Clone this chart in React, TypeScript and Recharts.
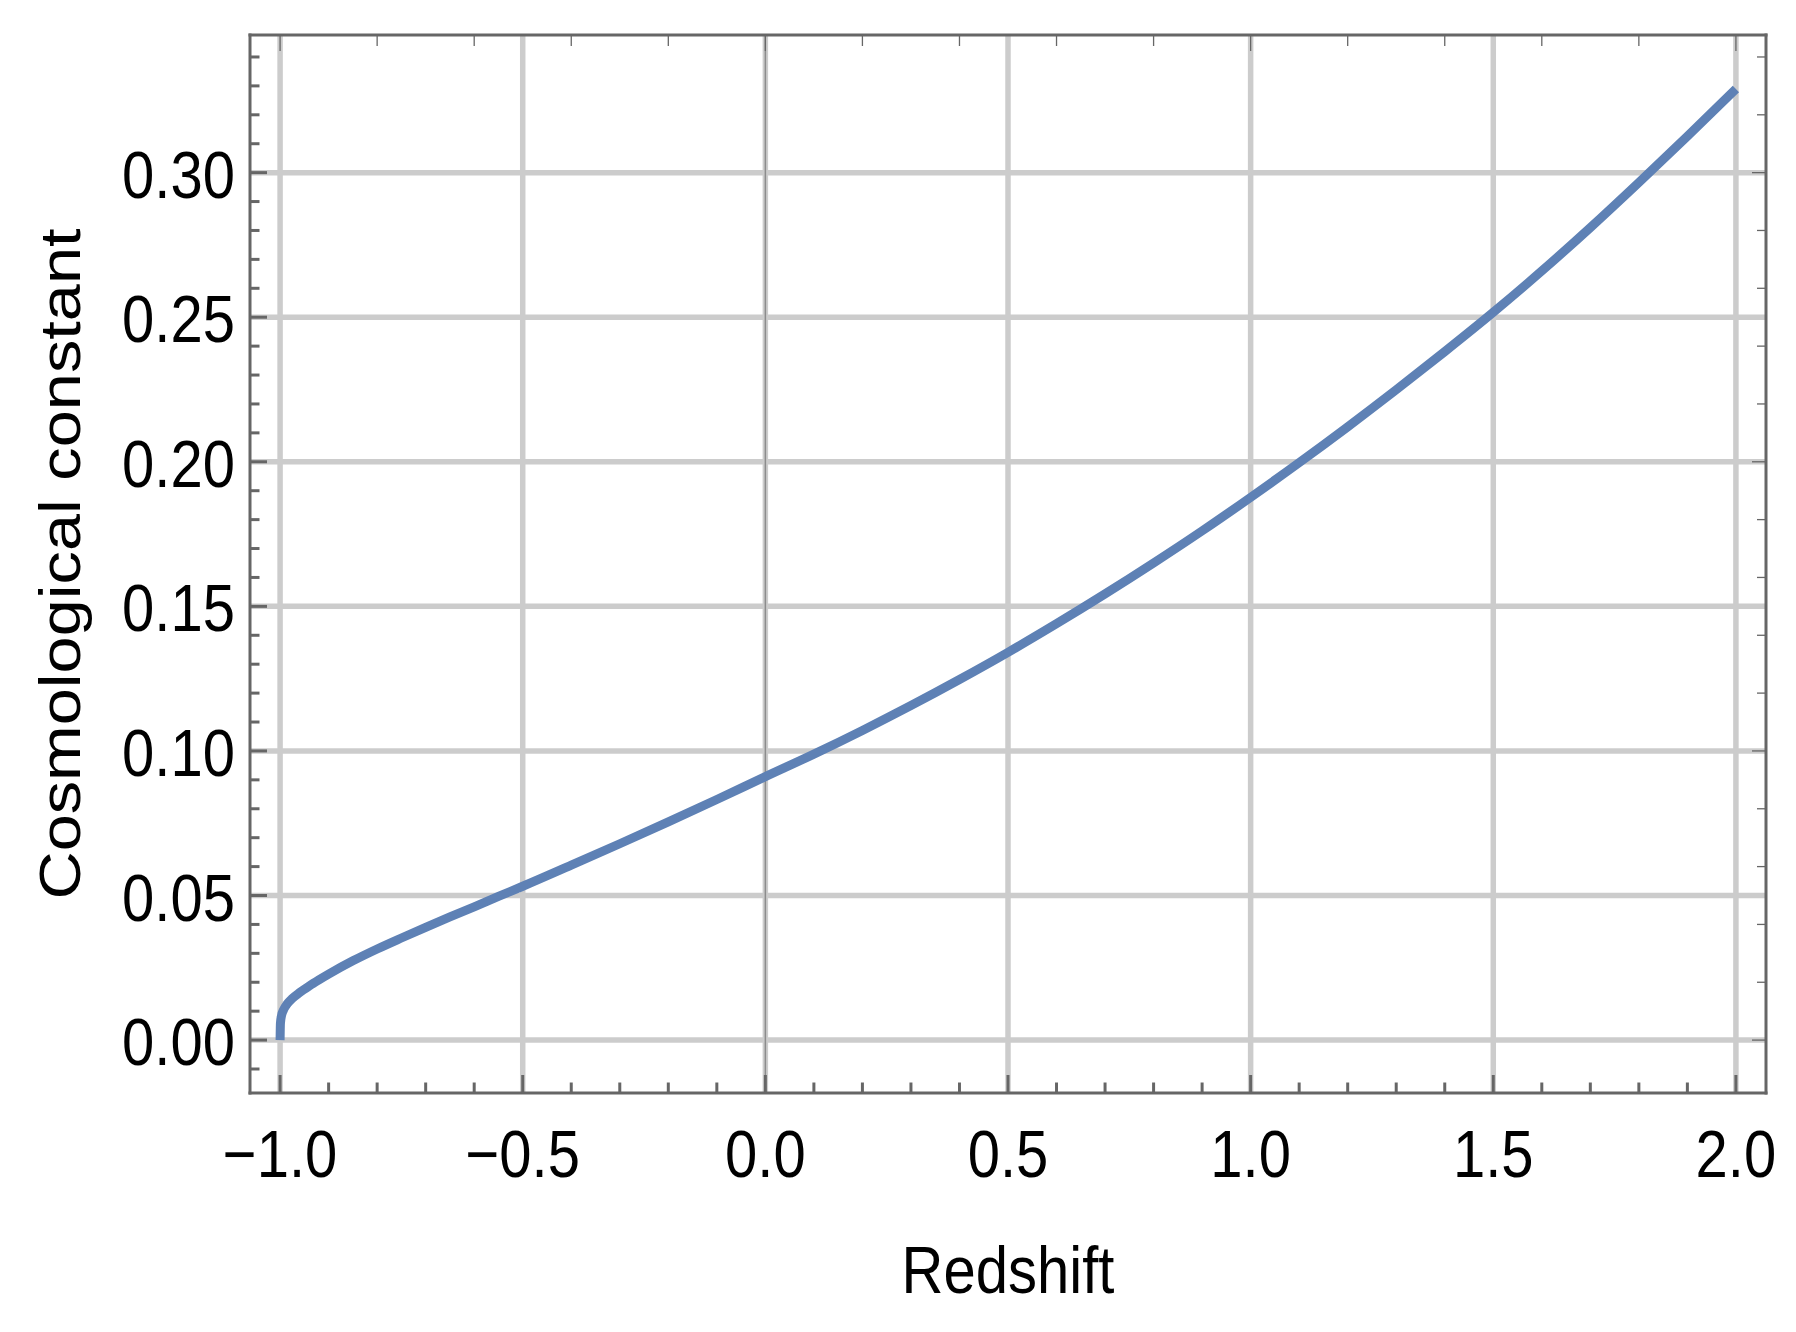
import React from "react";
import { LineChart, Line, XAxis, YAxis, ReferenceLine } from "recharts";

// curve (redshift -> cosmological constant)
const redshift = [
  -1.0, -0.9993, -0.997, -0.993, -0.985, -0.975, -0.96, -0.94, -0.92, -0.9,
  -0.85, -0.8, -0.75, -0.7, -0.65, -0.6, -0.55, -0.5, -0.4, -0.3, -0.2, -0.1,
  0.0, 0.1, 0.2, 0.3, 0.4, 0.5, 0.6, 0.7, 0.8, 0.9, 1.0, 1.1, 1.2, 1.3, 1.4,
  1.5, 1.6, 1.7, 1.8, 1.9, 2.0,
];
const lambda = [
  0.0, 0.0058, 0.0085, 0.0104, 0.0126, 0.0144, 0.0164, 0.0187, 0.0208, 0.0228,
  0.0274, 0.0315, 0.0353, 0.039, 0.0426, 0.0461, 0.0497, 0.0532, 0.0605, 0.0679,
  0.0755, 0.0832, 0.0911, 0.0989, 0.1071, 0.1157, 0.1247, 0.1341, 0.144, 0.1543,
  0.165, 0.1761, 0.1877, 0.1997, 0.2121, 0.2249, 0.2381, 0.2517, 0.266, 0.281,
  0.2966, 0.3126, 0.3289,
];

const xTickValues = [-1, -0.5, 0, 0.5, 1, 1.5, 2];
const xTickLabels = ["−1.0", "−0.5", "0.0", "0.5", "1.0", "1.5", "2.0"];
const xMinorTicks = [
  -1, -0.9, -0.8, -0.7, -0.6, -0.5, -0.4, -0.3, -0.2, -0.1, 0, 0.1, 0.2, 0.3,
  0.4, 0.5, 0.6, 0.7, 0.8, 0.9, 1, 1.1, 1.2, 1.3, 1.4, 1.5, 1.6, 1.7, 1.8, 1.9, 2,
];
const xTopTicks = [
  -1, -0.8, -0.6, -0.4, -0.2, 0, 0.2, 0.4, 0.6, 0.8, 1, 1.2, 1.4, 1.6, 1.8, 2,
];
const xTopMajor = [-1, 0, 1, 2];

const yTickValues = [0, 0.05, 0.1, 0.15, 0.2, 0.25, 0.3];
const yTickLabels = ["0.00", "0.05", "0.10", "0.15", "0.20", "0.25", "0.30"];
const yMinorTicks = [
  -0.01, 0, 0.01, 0.02, 0.03, 0.04, 0.05, 0.06, 0.07, 0.08, 0.09, 0.1, 0.11,
  0.12, 0.13, 0.14, 0.15, 0.16, 0.17, 0.18, 0.19, 0.2, 0.21, 0.22, 0.23, 0.24,
  0.25, 0.26, 0.27, 0.28, 0.29, 0.3, 0.31, 0.32, 0.33, 0.34,
];
const yRightTicks = [
  0, 0.02, 0.04, 0.06, 0.08, 0.1, 0.12, 0.14, 0.16, 0.18, 0.2, 0.22, 0.24, 0.26,
  0.28, 0.3, 0.32, 0.34,
];
const yRightMajor = [0, 0.1, 0.2, 0.3];

const data = redshift.map((z, i) => ({ z, lam: lambda[i] }));

const X_DOMAIN = [-1.062, 2.062];
const Y_DOMAIN = [-0.0183, 0.3476];

const FONT = "'Liberation Sans', Arial, Helvetica, sans-serif";
const FRAME = "#666666";
const STRETCH = 1.15;
const frameLine = { stroke: FRAME, strokeWidth: 3, strokeLinecap: "square" as const };

const BottomTick = (props: any) => {
  const { x, y, payload } = props;
  const i = xTickValues.indexOf(payload.value);
  return (
    <g>
      <line x1={x} x2={x} y1={y} y2={y - (i >= 0 ? 18 : 10.5)} stroke={FRAME} strokeWidth={3} />
      {i >= 0 && (
        <text
          transform={`translate(${x},${y + 84}) scale(1,${STRETCH})`}
          textAnchor="middle"
          fontSize={58}
          fontFamily={FONT}
          fill="#000"
        >
          {xTickLabels[i]}
        </text>
      )}
    </g>
  );
};

const LeftTick = (props: any) => {
  const { x, y, payload } = props;
  const i = yTickValues.indexOf(payload.value);
  return (
    <g>
      <line x1={x} x2={x + (i >= 0 ? 17 : 9.5)} y1={y} y2={y} stroke={FRAME} strokeWidth={3} />
      {i >= 0 && (
        <text
          transform={`translate(${x - 15},${y + 25}) scale(1,${STRETCH})`}
          textAnchor="end"
          fontSize={58}
          fontFamily={FONT}
          fill="#000"
        >
          {yTickLabels[i]}
        </text>
      )}
    </g>
  );
};

const TopTick = (props: any) => {
  const { x, y, payload } = props;
  const major = xTopMajor.indexOf(payload.value) >= 0;
  return <line x1={x} x2={x} y1={y} y2={y + (major ? 16 : 11)} stroke={FRAME} strokeWidth={1.3} />;
};

const RightTick = (props: any) => {
  const { x, y, payload } = props;
  const major = yRightMajor.indexOf(payload.value) >= 0;
  return <line x1={x} x2={x - (major ? 14 : 9)} y1={y} y2={y} stroke={FRAME} strokeWidth={1.3} />;
};

export default function App() {
  return (
    <div style={{ width: 1796, height: 1332, background: "#fff" }}>
      <style>{`body{margin:0;background:#fff}`}</style>
      <LineChart
        width={1796}
        height={1332}
        data={data}
        margin={{ top: 34, right: 29, left: 0, bottom: 0 }}
      >
        <XAxis
          xAxisId="bottom"
          dataKey="z"
          type="number"
          domain={X_DOMAIN}
          allowDataOverflow
          ticks={xMinorTicks}
          interval={0}
          height={239}
          tickSize={0}
          tickMargin={0}
          tickLine={false}
          axisLine={frameLine}
          tick={<BottomTick />}
        />
        <XAxis
          xAxisId="top"
          orientation="top"
          dataKey="z"
          type="number"
          domain={X_DOMAIN}
          allowDataOverflow
          ticks={xTopTicks}
          interval={0}
          height={1}
          tickSize={0}
          tickMargin={0}
          tickLine={false}
          axisLine={frameLine}
          tick={<TopTick />}
        />
        <YAxis
          yAxisId="left"
          type="number"
          domain={Y_DOMAIN}
          allowDataOverflow
          ticks={yMinorTicks}
          interval={0}
          width={250}
          tickSize={0}
          tickMargin={0}
          tickLine={false}
          axisLine={frameLine}
          tick={<LeftTick />}
        />
        <YAxis
          yAxisId="right"
          orientation="right"
          type="number"
          domain={Y_DOMAIN}
          allowDataOverflow
          ticks={yRightTicks}
          interval={0}
          width={1}
          tickSize={0}
          tickMargin={0}
          tickLine={false}
          axisLine={frameLine}
          tick={<RightTick />}
        />
        {xTickValues.map((v) => (
          <ReferenceLine
            key={"gx" + v}
            x={v}
            xAxisId="bottom"
            yAxisId="left"
            stroke="#cccccc"
            strokeWidth={5.5}
          />
        ))}
        {yTickValues.map((v) => (
          <ReferenceLine
            key={"gy" + v}
            y={v}
            xAxisId="bottom"
            yAxisId="left"
            stroke="#cccccc"
            strokeWidth={5.5}
          />
        ))}
        <ReferenceLine x={0} xAxisId="bottom" yAxisId="left" stroke="#8c8c8c" strokeWidth={1.5} />
        <Line
          xAxisId="bottom"
          yAxisId="left"
          dataKey="lam"
          type="monotone"
          stroke="#5e81b5"
          strokeWidth={9}
          dot={false}
          activeDot={false}
          isAnimationActive={false}
        />
        <text
          transform={`translate(1008,1293) scale(1,${STRETCH})`}
          textAnchor="middle"
          fontSize={58}
          fontFamily={FONT}
          fill="#000"
        >
          Redshift
        </text>
        <text
          transform={`translate(80,564) scale(1,${STRETCH}) rotate(-90)`}
          textAnchor="middle"
          fontSize={58}
          fontFamily={FONT}
          fill="#000"
        >
          Cosmological constant
        </text>
      </LineChart>
    </div>
  );
}
